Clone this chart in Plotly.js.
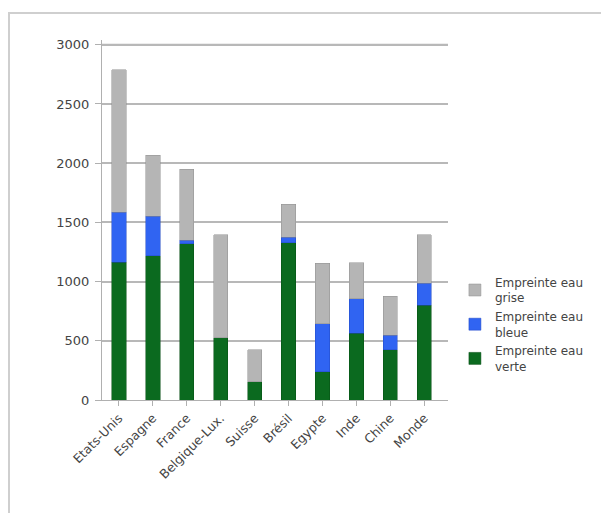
<!DOCTYPE html>
<html>
<head>
<meta charset="utf-8">
<script src="https://cdn.plot.ly/plotly-3.0.1.min.js"></script>
<style>
html,body{margin:0;padding:0;background:#fff;overflow:hidden;}
#frame{position:absolute;left:8px;top:12px;width:640px;height:560px;border-top:2px solid #cfcfcf;border-left:2px solid #cfcfcf;}
#chart{position:absolute;left:0;top:0;width:601px;height:513px;}
</style>
</head>
<body>
<div id="frame"></div>
<div id="chart"></div>
<script>
const categories = ["Etats-Unis","Espagne","France","Belgique-Lux.","Suisse","Brésil","Egypte","Inde","Chine","Monde"];
const verte = [1165, 1220, 1320, 525, 155, 1330, 240, 565, 425, 800];
const bleue = [420, 330, 30, 0, 0, 45, 405, 290, 120, 185];
const grise = [1205, 515, 600, 870, 270, 280, 510, 305, 330, 410];
const seriesNames = ["Empreinte eau<br>verte","Empreinte eau<br>bleue","Empreinte eau<br>grise"];
const yTicks = [0,500,1000,1500,2000,2500,3000];

const colors = ["#0b6a1f","#3064f2","#b5b5b5"];
const lineCols = ["#064d14","#2249c4","#8f8f8f"];
const vals = [verte, bleue, grise];

const traces = vals.map((v,i)=>({
  type:"bar",
  x:categories,
  y:v,
  name:seriesNames[i],
  marker:{color:colors[i], line:{color:lineCols[i], width:0.5}},
  hoverinfo:"x+y+name"
}));

const topTick = yTicks[yTicks.length-1];

const layout = {
  width:601, height:513,
  paper_bgcolor:"rgba(0,0,0,0)",
  plot_bgcolor:"rgba(0,0,0,0)",
  barmode:"stack",
  bargap:0.58,
  margin:{l:102,r:149,t:40,b:113},
  font:{family:"DejaVu Sans, sans-serif", size:11, color:"#444"},
  xaxis:{
    type:"category",
    range:[-0.5, 9.7],
    tickangle:-45,
    showline:true, linecolor:"#b0b0b0", linewidth:1,
    ticks:"outside", ticklen:5, tickcolor:"#b0b0b0",
    tickfont:{size:12.5,color:"#444"},
    showgrid:false
  },
  yaxis:{
    range:[0,3040],
    tickvals:yTicks,
    ticktext:yTicks.map(String),
    showline:true, linecolor:"#b0b0b0", linewidth:1,
    ticks:"outside", ticklen:6, tickcolor:"#b0b0b0",
    ticklabelstandoff:3,
    showgrid:true, gridcolor:"#b8b8b8", gridwidth:2,
    zeroline:false,
    tickfont:{size:13,color:"#444"}
  },
  shapes:[{
    type:"line", xref:"paper", yref:"y",
    x0:0, x1:1, y0:topTick, y1:topTick,
    line:{color:"#b8b8b8", width:2},
    layer:"above"
  }],
  legend:{
    x:1.02, y:0.21, xanchor:"left", yanchor:"middle",
    traceorder:"reversed",
    font:{size:12,color:"#444"},
    itemwidth:30,
    tracegroupgap:0,
    bgcolor:"rgba(0,0,0,0)"
  },
  showlegend:true
};

Plotly.newPlot("chart", traces, layout, {displayModeBar:false, staticPlot:true});
</script>
</body>
</html>
